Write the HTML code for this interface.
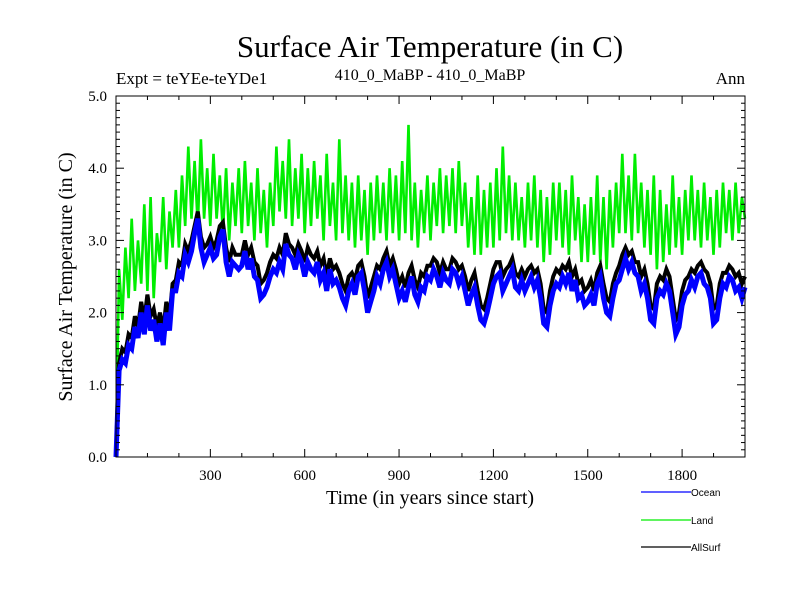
<!DOCTYPE html>
<html><head><meta charset="utf-8"><style>
body{margin:0;background:#fff}
svg text{font-family:"Liberation Serif",serif}
</style></head><body>
<svg id="chart" width="800" height="600" xmlns="http://www.w3.org/2000/svg">
<text x="430" y="57" font-size="31" text-anchor="middle">Surface Air Temperature (in C)</text>
<text x="116" y="84" font-size="17">Expt = teYEe-teYDe1</text>
<text x="430" y="80" font-size="16" text-anchor="middle">410_0_MaBP - 410_0_MaBP</text>
<text x="745" y="84" font-size="17" text-anchor="end">Ann</text>
<text x="430" y="504" font-size="20" text-anchor="middle">Time (in years since start)</text>
<text transform="translate(72,277) rotate(-90)" font-size="20" text-anchor="middle">Surface Air Temperature (in C)</text>
<g id="plot"></g>
<g id="axes"></g>
<g id="legend"></g>
</svg>
<script>
const years = [];
for (let y = 0; y <= 2000; y += 10) years.push(y);
const land = [0.1,2.6,1.9,2.9,2.2,3.3,2.3,3.0,2.4,3.5,
2.3,3.6,2.2,3.1,2.7,3.6,2.6,3.4,2.9,3.7,
2.9,3.9,3.2,4.3,3.3,4.1,3.2,4.4,3.3,4.0,
3.2,4.2,3.3,3.9,3.1,4.0,3.0,3.8,3.2,4.0,
3.1,4.1,3.2,3.8,3.0,4.0,3.1,3.7,2.9,3.8,
3.2,4.3,3.4,4.1,3.3,4.4,3.2,4.0,3.3,4.2,
3.1,4.0,3.2,4.1,3.3,3.9,3.0,4.2,3.2,3.8,
3.0,4.4,3.1,3.9,3.0,3.8,2.9,3.9,3.0,3.7,
2.8,3.8,3.0,3.9,3.1,3.8,3.0,4.0,3.1,3.9,
3.0,4.1,3.1,4.6,3.0,3.8,2.9,3.7,3.1,3.9,
3.0,3.8,3.2,4.0,3.1,3.9,3.2,4.0,3.1,4.1,
3.2,3.8,2.9,3.6,2.8,3.9,2.8,3.7,2.9,3.8,
2.9,4.0,3.0,4.3,3.1,3.9,3.0,3.8,3.0,3.6,
2.9,3.8,3.0,3.9,2.9,3.7,2.7,3.6,2.8,3.8,
3.0,3.8,2.9,3.7,2.8,3.9,3.0,3.6,2.7,3.5,
2.7,3.6,2.8,3.9,2.7,3.6,2.6,3.7,2.9,3.8,
3.1,4.2,3.1,3.9,3.0,4.2,3.1,3.8,2.9,3.7,
2.8,3.9,2.6,3.7,2.7,3.5,2.8,3.9,2.9,3.6,
2.8,3.7,3.0,3.9,3.0,3.7,2.9,3.8,3.0,3.6,
2.8,3.7,2.9,3.8,3.1,3.7,3.0,3.8,3.1,3.6,
3.3];
const ocean = [0.0,1.2,1.35,1.3,1.55,1.5,1.8,1.65,2.0,1.7,
2.1,1.75,1.9,1.6,1.85,1.55,2.0,1.75,2.3,2.3,
2.55,2.5,2.8,2.7,2.85,3.1,3.3,2.9,2.7,2.8,
2.9,2.75,2.8,3.05,3.15,2.7,2.5,2.7,2.65,2.6,
2.65,2.85,2.6,2.75,2.5,2.45,2.2,2.25,2.35,2.5,
2.6,2.55,2.7,2.6,2.95,2.8,2.75,2.6,2.8,2.7,
2.5,2.7,2.6,2.55,2.7,2.45,2.55,2.3,2.6,2.4,
2.45,2.35,2.2,2.1,2.3,2.4,2.25,2.5,2.55,2.3,
2.0,2.15,2.3,2.5,2.4,2.6,2.7,2.5,2.6,2.4,
2.2,2.3,2.15,2.35,2.5,2.25,2.15,2.35,2.3,2.5,
2.45,2.6,2.5,2.35,2.55,2.45,2.4,2.6,2.55,2.4,
2.5,2.3,2.1,2.25,2.35,2.1,1.9,1.85,2.0,2.2,
2.4,2.5,2.55,2.3,2.4,2.5,2.6,2.35,2.3,2.45,
2.3,2.4,2.5,2.35,2.45,2.2,1.85,1.8,2.1,2.3,
2.4,2.35,2.5,2.4,2.55,2.3,2.45,2.2,2.25,2.1,
2.15,2.25,2.1,2.4,2.5,2.2,2.0,1.95,2.2,2.4,
2.45,2.6,2.75,2.6,2.7,2.55,2.5,2.3,2.4,2.2,
1.9,1.85,2.2,2.3,2.25,2.4,2.3,2.0,1.7,1.8,
2.1,2.25,2.3,2.45,2.35,2.5,2.55,2.4,2.35,2.2,
1.85,1.9,2.2,2.4,2.35,2.5,2.45,2.3,2.35,2.2,
2.35];
const allsurf = [0.05,1.3,1.5,1.45,1.7,1.65,1.95,1.8,2.15,1.9,
2.25,1.95,2.05,1.8,2.0,1.75,2.15,1.95,2.4,2.45,
2.7,2.65,2.95,2.85,3.0,3.2,3.4,3.05,2.9,2.95,
3.05,2.9,3.0,3.2,3.25,2.9,2.7,2.9,2.8,2.8,
2.8,3.0,2.8,2.9,2.7,2.65,2.4,2.45,2.55,2.7,
2.8,2.75,2.9,2.8,3.1,2.95,2.9,2.8,2.95,2.85,
2.7,2.9,2.8,2.75,2.85,2.65,2.75,2.5,2.75,2.6,
2.65,2.55,2.4,2.3,2.5,2.55,2.45,2.65,2.7,2.5,
2.2,2.35,2.5,2.65,2.6,2.75,2.85,2.65,2.75,2.6,
2.4,2.5,2.35,2.55,2.65,2.45,2.35,2.55,2.5,2.65,
2.65,2.75,2.7,2.55,2.7,2.6,2.6,2.75,2.7,2.6,
2.65,2.5,2.3,2.45,2.55,2.3,2.1,2.05,2.2,2.4,
2.6,2.7,2.7,2.5,2.6,2.65,2.75,2.55,2.5,2.6,
2.5,2.6,2.65,2.55,2.6,2.4,2.05,2.0,2.3,2.5,
2.6,2.55,2.65,2.6,2.7,2.5,2.6,2.4,2.45,2.3,
2.35,2.45,2.3,2.55,2.65,2.4,2.2,2.15,2.4,2.55,
2.65,2.8,2.9,2.8,2.85,2.7,2.7,2.5,2.6,2.4,
2.1,2.05,2.4,2.5,2.45,2.6,2.5,2.2,1.9,2.0,
2.3,2.45,2.5,2.6,2.55,2.65,2.7,2.6,2.55,2.4,
2.05,2.1,2.4,2.55,2.55,2.65,2.6,2.5,2.55,2.4,
2.5];
const yTickLabels = ["0.0","1.0","2.0","3.0","4.0","5.0"];
const xTickLabels = ["300","600","900","1200","1500","1800"];

const L=116,R=745,T=96,B=457,XMAX=2000,YMAX=5;
const sx = v => L + (R-L)*v/XMAX;
const sy = v => B - (B-T)*v/YMAX;
const NS="http://www.w3.org/2000/svg";
function mk(tag, attrs, parent){const e=document.createElementNS(NS,tag);for(const k in attrs)e.setAttribute(k,attrs[k]);parent.appendChild(e);return e;}
const plot=document.getElementById('plot'), axes=document.getElementById('axes'), legend=document.getElementById('legend');
function series(vals,color,name,w){
  const d=vals.map((v,i)=>(i?'L':'M')+sx(years[i]).toFixed(1)+','+sy(v).toFixed(1)).join('');
  const p=mk('path',{d:d,fill:'none',stroke:color,'stroke-width':w,'stroke-linejoin':'miter'},plot);
  
  
}
series(land,'#00ee00','land-line',2.6);
series(allsurf,'#000000','allsurf-line',4);
series(ocean,'#0000ff','ocean-line',5);
const frame=mk('rect',{x:L,y:T,width:R-L,height:B-T,fill:'none',stroke:'#000','stroke-width':1},axes);


for(let v=0;v<=XMAX;v+=100){
  const maj=v%300===0, len=maj?8:4, x=sx(v);
  mk('line',{x1:x,y1:B,x2:x,y2:B-len,stroke:'#000'},axes);
  mk('line',{x1:x,y1:T,x2:x,y2:T+len,stroke:'#000'},axes);
}
xTickLabels.forEach(t=>{
  const e=mk('text',{x:sx(+t),y:480,'font-size':15,'text-anchor':'middle'},axes);e.textContent=t;
  
  
});
for(let i=0;i<=50;i++){
  const v=i/10, maj=i%10===0, len=maj?8:4, y=sy(v);
  mk('line',{x1:L,y1:y,x2:L+len,y2:y,stroke:'#000'},axes);
  mk('line',{x1:R,y1:y,x2:R-len,y2:y,stroke:'#000'},axes);
}
yTickLabels.forEach(t=>{
  const e=mk('text',{x:107,y:sy(+t)+5,'font-size':15,'text-anchor':'end'},axes);e.textContent=t;
  
  
});
[['Ocean','#0000ff',492],['Land','#00ee00',520],['AllSurf','#000',547]].forEach(([n,c,y])=>{
  const g=mk('g',{},legend);
  
  
  mk('line',{x1:641,y1:y,x2:691,y2:y,stroke:c,'stroke-width':1.3},g);
  const t=mk('text',{x:691,y:y+4,'font-size':10},g);t.textContent=n;
  t.setAttribute('style','font-family:"Liberation Sans",sans-serif');
});
</script>
</body></html>
